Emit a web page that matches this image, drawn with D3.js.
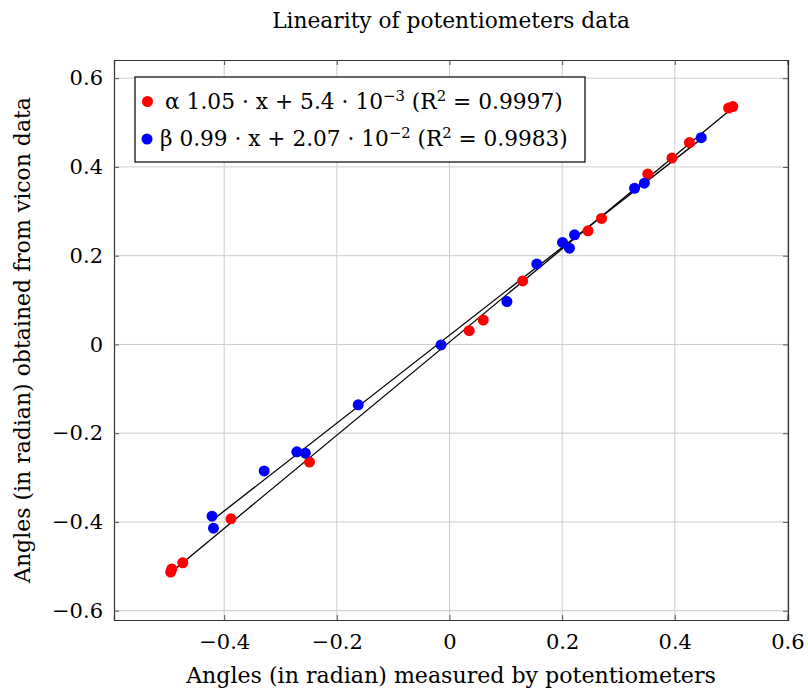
<!DOCTYPE html>
<html><head><meta charset="utf-8">
<script src="https://cdn.jsdelivr.net/npm/d3@7"></script>
<style>
body{margin:0;background:#fff;}
text{font-family:"DejaVu Serif",serif;fill:#000;}
</style></head>
<body><svg id="c" width="808" height="693"></svg>
<script>
const alphaX = [-0.495,-0.493,-0.4735,-0.388,-0.2485,0.035,0.060,0.130,0.246,0.270,0.352,0.395,0.426,0.4956,0.503];
const alphaY = [-0.513,-0.506,-0.492,-0.393,-0.265,0.031,0.055,0.143,0.256,0.284,0.384,0.420,0.455,0.5326,0.536];
const betaX = [-0.4215,-0.419,-0.329,-0.271,-0.256,-0.162,-0.015,0.102,0.155,0.2007,0.213,0.222,0.3286,0.346,0.447];
const betaY = [-0.387,-0.414,-0.285,-0.242,-0.245,-0.136,-0.001,0.0965,0.1815,0.230,0.217,0.247,0.352,0.3635,0.466];
const fits = [{name:"alpha", slope:1.05, icpt:5.4e-3}, {name:"beta", slope:0.99, icpt:2.07e-2}];
const xTicks = [-0.4,-0.2,0,0.2,0.4,0.6];
const yTicks = [-0.6,-0.4,-0.2,0,0.2,0.4,0.6];
const xDomain = [-0.5956, 0.601];
const yDomain = [-0.621, 0.641];

const svg = d3.select("#c");
const L=114, R=788, T=60, B=620;
const x = d3.scaleLinear().domain(xDomain).range([L,R]);
const y = d3.scaleLinear().domain(yDomain).range([B,T]);
const fmt = v => v===0 ? "0" : d3.format(".1f")(v);

// grid
svg.append("g").selectAll("line").data(xTicks).join("line")
  .attr("x1",d=>x(d)).attr("x2",d=>x(d)).attr("y1",T).attr("y2",B)
  .attr("stroke","#cccccc").attr("stroke-width",1);
svg.append("g").selectAll("line").data(yTicks).join("line")
  .attr("y1",d=>y(d)).attr("y2",d=>y(d)).attr("x1",L).attr("x2",R)
  .attr("stroke","#cccccc").attr("stroke-width",1);

// axes with inner ticks
const tk=5;
const gxB = svg.append("g").attr("transform",`translate(0,${B})`)
  .call(d3.axisBottom(x).tickValues(xTicks).tickSize(-tk).tickPadding(14).tickFormat(fmt));
const gxT = svg.append("g").attr("transform",`translate(0,${T})`)
  .call(d3.axisTop(x).tickValues(xTicks).tickSize(-tk).tickFormat(""));
const gyL = svg.append("g").attr("transform",`translate(${L},0)`)
  .call(d3.axisLeft(y).tickValues(yTicks).tickSize(-tk).tickPadding(11).tickFormat(fmt));
const gyR = svg.append("g").attr("transform",`translate(${R},0)`)
  .call(d3.axisRight(y).tickValues(yTicks).tickSize(-tk).tickFormat(""));
[gxB,gxT,gyL,gyR].forEach(g=>{
  g.select(".domain").attr("stroke","#333").attr("stroke-width",1.2);
  g.selectAll(".tick line").attr("stroke","#555").attr("stroke-width",1);
  g.selectAll(".tick text").style("font-family","DejaVu Serif").style("font-size","21px").attr("fill","#000");
});
gxB.selectAll(".tick text").attr("dy","0.72em");

// fit lines
const ax = d3.extent(alphaX), bx = d3.extent(betaX);
const lineData = [
  {f:fits[0], ext:ax},
  {f:fits[1], ext:bx}
];
svg.append("g").selectAll("line").data(lineData).join("line")
  .attr("x1",d=>x(d.ext[0])).attr("y1",d=>y(d.f.slope*d.ext[0]+d.f.icpt))
  .attr("x2",d=>x(d.ext[1])).attr("y2",d=>y(d.f.slope*d.ext[1]+d.f.icpt))
  .attr("stroke","#000").attr("stroke-width",1.3);

// points
const r=5.5;
svg.append("g").selectAll("circle").data(alphaX.map((v,i)=>[v,alphaY[i]])).join("circle")
  .attr("cx",d=>x(d[0])).attr("cy",d=>y(d[1])).attr("r",r).attr("fill","#ff0000");
svg.append("g").selectAll("circle").data(betaX.map((v,i)=>[v,betaY[i]])).join("circle")
  .attr("cx",d=>x(d[0])).attr("cy",d=>y(d[1])).attr("r",r).attr("fill","#0000ff");

function fit(sel, w){
  const n = sel.node(); const cur = n.getComputedTextLength();
  const fs = parseFloat(sel.style("font-size"));
  sel.style("font-size", (fs*w/cur)+"px");
}

// title & labels
const title = svg.append("text").attr("x",451).attr("y",28).attr("text-anchor","middle")
  .style("font-size","18px").text("Linearity of potentiometers data");
fit(title, 358);
const xl = svg.append("text").attr("x",451).attr("y",683).attr("text-anchor","middle")
  .style("font-size","18px").text("Angles (in radian) measured by potentiometers");
fit(xl, 530);
const yl = svg.append("text").attr("transform",`translate(30,${(T+B)/2}) rotate(-90)`).attr("text-anchor","middle")
  .style("font-size","18px").text("Angles (in radian) obtained from vicon data");
fit(yl, 486);

// legend
const lg = svg.append("g");
lg.append("rect").attr("x",135).attr("y",77).attr("width",450).attr("height",85)
  .attr("fill","#fff").attr("stroke","#000").attr("stroke-width",1.2);
lg.append("circle").attr("cx",147.5).attr("cy",101.5).attr("r",r).attr("fill","#ff0000");
lg.append("circle").attr("cx",147).attr("cy",139).attr("r",r).attr("fill","#0000ff");
function legendText(yy, xx, parts, w){
  const t = lg.append("text").attr("x",xx).attr("y",yy).style("font-size","19px");
  parts.forEach(p=>{
    const s = t.append("tspan").text(p.t);
    if(p.sup) s.attr("dy",-8).style("font-size","0.68em");
    if(p.down) s.attr("dy",8);
  });
  fit(t, w);
  return t;
}
legendText(109, 165, [{t:"α 1.05 · x + 5.4 · 10"},{t:"−3",sup:true},{t:"  (R",down:true},{t:"2",sup:true},{t:" = 0.9997)",down:true}], 398);
legendText(146, 160, [{t:"β 0.99 · x + 2.07 · 10"},{t:"−2",sup:true},{t:"  (R",down:true},{t:"2",sup:true},{t:" = 0.9983)",down:true}], 408);
</script></body></html>
